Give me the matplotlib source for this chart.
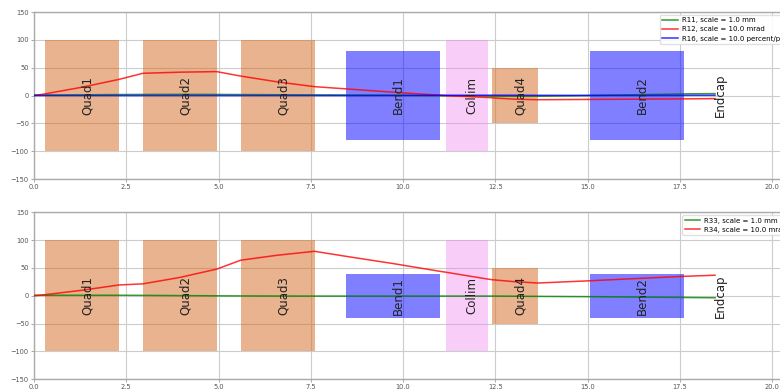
import matplotlib
matplotlib.use("Agg")
import matplotlib.pyplot as plt

# Beamline elements: name, start, end, horizontal half-aperture, vertical half-aperture
elem_names = ["Quad1", "Quad2", "Quad3", "Bend1", "Collim", "Quad4", "Bend2", "Endcap"]
elem_start = [0.3, 2.95, 5.6, 8.45, 11.15, 12.4, 15.05, 18.44]
elem_end = [2.3, 4.95, 7.6, 11.0, 12.3, 13.65, 17.6, 18.46]
elem_aper_x = [100, 100, 100, 80, 100, 50, 80, 100]
elem_aper_y = [100, 100, 100, 40, 100, 50, 40, 100]
elem_kind = ["quad", "quad", "quad", "bend", "collim", "quad", "bend", "end"]

# Transfer-matrix elements along the beamline (s in m)
s = [0, 0.3, 1.3, 2.3, 2.95, 3.95, 4.95, 5.6, 6.6, 7.6, 8.45, 9.725,
     11.0, 11.15, 12.3, 12.4, 13.0, 13.65, 15.05, 16.3, 17.6, 18.45]
r11 = [1, 1, 1.3, 1.8, 2, 2.2, 2, 1.8, 1.5, 1.2, 1, 0.5,
       -0.3, -0.5, -1, -1.2, -1.3, -1.2, 0, 1.5, 3, 3.5]
r12 = [0, 3, 15, 29, 40, 42, 43, 35, 24.5, 16, 12, 6,
       0.5, 0, -3.5, -4, -6.5, -7.5, -7, -6.5, -6, -5.5]
r16 = [0, 0, 0, 0, 0, 0, 0, 0, 0, 0, 0, 0.2,
       0.5, 0.5, 0.6, 0.6, 0.5, 0.4, 0.3, 0.3, 0.4, 0.5]
r33 = [1, 1, 1, 1, 0.8, 0.4, 0, -0.2, -0.4, -0.5, -0.5, -0.5,
       -0.5, -0.5, -0.5, -0.5, -0.7, -1, -1.5, -2.3, -3, -3.5]
r34 = [0, 2, 10, 19.5, 21.5, 33, 48, 64, 73, 80, 71, 58,
       44, 42.5, 30, 29, 25.5, 23, 27, 31, 35, 37]

kind_color = {"quad": ("chocolate", 0.5), "bend": ("blue", 0.5),
              "collim": ("violet", 0.4), "end": ("violet", 0.25)}

fig = plt.figure(figsize=(7.8, 3.9), dpi=100)
ax_top = fig.add_axes([0.0436, 0.541, 0.972, 0.428])
ax_bot = fig.add_axes([0.0436, 0.0275, 0.972, 0.428])


def draw_elements(ax, apertures):
    for name, a, b, h, k in zip(elem_names, elem_start, elem_end, apertures, elem_kind):
        col, al = kind_color[k]
        ax.bar((a + b) / 2, 2 * h, width=b - a, bottom=-h, color=col, alpha=al,
               linewidth=0, zorder=1)
        ax.text((a + b) / 2 - 0.03, 0, name, rotation=90, ha="left", va="center",
                fontsize=8.5, color="#222222", zorder=4)


def style(ax):
    ax.set_xlim(0, 20.54)
    ax.set_ylim(-150, 150)
    ax.set_xticks([0, 2.5, 5, 7.5, 10, 12.5, 15, 17.5, 20])
    ax.set_xticklabels(["0.0", "2.5", "5.0", "7.5", "10.0", "12.5", "15.0", "17.5", "20.0"])
    ax.set_yticks([-150, -100, -50, 0, 50, 100, 150])
    ax.grid(True, color="#cccccc", linewidth=0.8, zorder=0)
    ax.set_axisbelow(True)
    ax.tick_params(labelsize=4.8, labelcolor="#555555", color="#999999",
                   length=2.5, width=0.6, pad=1.2)
    for sp in ax.spines.values():
        sp.set_color("#aaaaaa")
        sp.set_linewidth(1.0)


def add_legend(ax):
    ax.legend(loc="upper right", fontsize=5.0, frameon=True, framealpha=0.9,
              edgecolor="#dddddd", fancybox=True, handlelength=2.2,
              handletextpad=0.6, borderpad=0.35, labelspacing=0.45,
              borderaxespad=0.4)


draw_elements(ax_top, elem_aper_x)
ax_top.plot(s, r11, color="green", lw=1.1, alpha=0.8, label="R11, scale = 1.0 mm", zorder=3)
ax_top.plot(s, r12, color="red", lw=1.1, alpha=0.8, label="R12, scale = 10.0 mrad", zorder=3)
ax_top.plot(s, r16, color="blue", lw=1.1, alpha=0.8, label="R16, scale = 10.0 percent/per", zorder=3)
style(ax_top)
add_legend(ax_top)

draw_elements(ax_bot, elem_aper_y)
ax_bot.plot(s, r33, color="green", lw=1.1, alpha=0.8, label="R33, scale = 1.0 mm", zorder=3)
ax_bot.plot(s, r34, color="red", lw=1.1, alpha=0.8, label="R34, scale = 10.0 mrad", zorder=3)
style(ax_bot)
add_legend(ax_bot)

fig.savefig("out.png", dpi=100)
